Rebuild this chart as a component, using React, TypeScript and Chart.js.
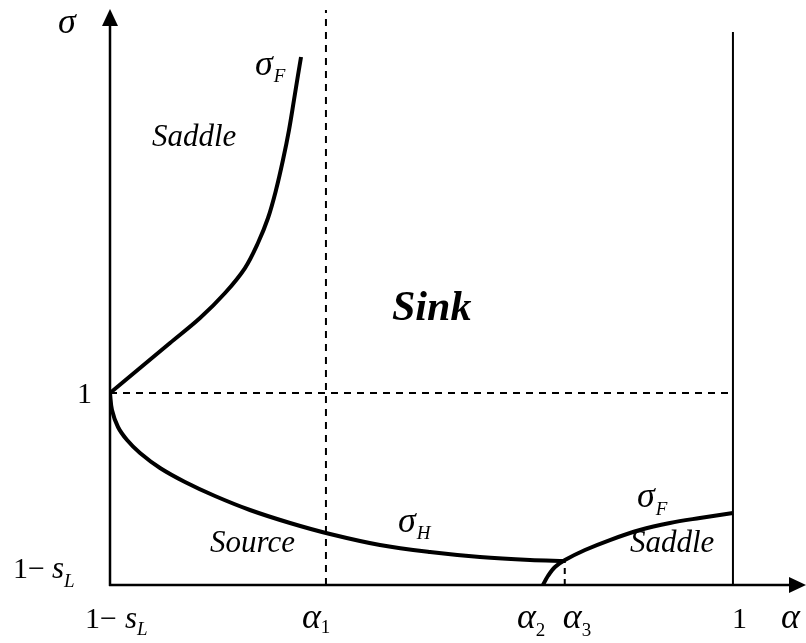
import React, { useEffect, useRef } from "react";
import { Chart, registerables } from "chart.js";

Chart.register(...registerables);

// ---- data (x = alpha, y = sigma) ----
const xMin = 0.4; // 1 - s_L
const xMax = 1.0694;
const yMin = 0.4; // 1 - s_L
const yMax = 2.197;

const alpha1 = 0.608;
const alpha2 = 0.817;
const alpha3 = 0.838;
const alphaOne = 1.0;
const sigmaOne = 1.0;

const upperFX = [0.4, 0.4289, 0.4578, 0.4867, 0.5108, 0.53, 0.5425, 0.5522, 0.5599, 0.5666, 0.5724, 0.5772, 0.5811, 0.584];
const upperFY = [1.0, 1.0781, 1.1563, 1.2344, 1.3125, 1.3906, 1.4688, 1.5469, 1.6344, 1.7281, 1.8219, 1.9156, 1.9938, 2.05];

const hopfX = [0.4, 0.4019, 0.4077, 0.4164, 0.4289, 0.4482, 0.4722, 0.5011, 0.5348, 0.5734, 0.6119, 0.66, 0.7082, 0.7563, 0.8045, 0.8382];
const hopfY = [1.0, 0.9469, 0.8938, 0.8531, 0.8125, 0.7656, 0.7219, 0.6781, 0.6344, 0.5938, 0.5594, 0.525, 0.5031, 0.4875, 0.4781, 0.475];

const lowerFX = [0.817, 0.8218, 0.8286, 0.8382, 0.8575, 0.8815, 0.9104, 0.9393, 0.9682, 1.0];
const lowerFY = [0.4, 0.4281, 0.4563, 0.4781, 0.5094, 0.5406, 0.5719, 0.5938, 0.6094, 0.625];

const rightWallTop = 2.128;

const toPts = (xs: number[], ys: number[]) => xs.map((x, i) => ({ x, y: ys[i] }));

const SERIF = '"Liberation Serif", "Times New Roman", serif';

function drawSub(
  ctx: CanvasRenderingContext2D,
  main: string,
  sub: string,
  x: number,
  y: number,
  size: number,
  subSize: number,
  subDy: number,
  italicMain = true,
  italicSub = true,
  gap = 1
) {
  ctx.font = `${italicMain ? "italic " : ""}${size}px ${SERIF}`;
  ctx.fillText(main, x, y);
  const w = ctx.measureText(main).width;
  ctx.font = `${italicSub ? "italic " : ""}${subSize}px ${SERIF}`;
  ctx.fillText(sub, x + w + gap, y + subDy);
}

const overlay = {
  id: "overlay",
  afterDatasetsDraw(chart: any) {
    const ctx: CanvasRenderingContext2D = chart.ctx;
    const { left, right, top, bottom } = chart.chartArea;
    const xs = chart.scales.x;
    const ys = chart.scales.y;
    ctx.save();
    ctx.fillStyle = "#000";
    ctx.strokeStyle = "#000";
    ctx.setLineDash([]);
    // axes
    ctx.lineWidth = 2.5;
    ctx.beginPath();
    ctx.moveTo(left, bottom + 1);
    ctx.lineTo(left, top + 12);
    ctx.moveTo(left - 1, bottom);
    ctx.lineTo(right - 12, bottom);
    ctx.stroke();
    // arrow heads
    ctx.beginPath();
    ctx.moveTo(left, top - 1);
    ctx.lineTo(left - 8, top + 16);
    ctx.lineTo(left + 8, top + 16);
    ctx.closePath();
    ctx.fill();
    ctx.beginPath();
    ctx.moveTo(right + 1, bottom);
    ctx.lineTo(right - 16, bottom - 8);
    ctx.lineTo(right - 16, bottom + 8);
    ctx.closePath();
    ctx.fill();

    ctx.textBaseline = "alphabetic";
    ctx.textAlign = "left";

    // axis titles
    ctx.font = `italic 36px ${SERIF}`;
    ctx.fillText("σ", left - 52, top + 23);
    ctx.fillText("α", xs.getPixelForValue(xMax) - 24, bottom + 43);

    // y tick labels
    const y1 = ys.getPixelForValue(sigmaOne);
    ctx.font = `30px ${SERIF}`;
    ctx.fillText("1", left - 33, y1 + 10);
    const y0 = ys.getPixelForValue(yMin);
    ctx.font = `30px ${SERIF}`;
    ctx.fillText("1−", left - 97, y0 - 7);
    drawSub(ctx, "s", "L", left - 58, y0 - 7, 31, 19, 9, true, true, 0);

    // x tick labels
    const xb = bottom + 43;
    ctx.font = `30px ${SERIF}`;
    ctx.fillText("1−", xs.getPixelForValue(xMin) - 25, xb);
    drawSub(ctx, "s", "L", xs.getPixelForValue(xMin) + 15, xb, 31, 19, 7, true, true, 0);
    drawSub(ctx, "α", "1", xs.getPixelForValue(alpha1) - 24, xb, 36, 19, 5, true, false, 0);
    drawSub(ctx, "α", "2", xs.getPixelForValue(alpha2) - 26, xb, 36, 19, 8, true, false, 0);
    drawSub(ctx, "α", "3", xs.getPixelForValue(alpha3) - 2, xb, 36, 19, 8, true, false, 0);
    ctx.font = `30px ${SERIF}`;
    ctx.fillText("1", xs.getPixelForValue(alphaOne) - 1, xb);

    // curve labels
    drawSub(ctx, "σ", "F", 255, 75, 36, 19, 7, true, true, 1);
    drawSub(ctx, "σ", "H", 398, 532, 36, 19, 7, true, true, 1);
    drawSub(ctx, "σ", "F", 637, 507, 36, 19, 8, true, true, 1);

    // region labels
    ctx.font = `italic 31px ${SERIF}`;
    ctx.fillText("Saddle", 152, 146);
    ctx.fillText("Source", 210, 552);
    ctx.fillText("Saddle", 630, 552);
    ctx.font = `italic bold 42px ${SERIF}`;
    ctx.fillText("Sink", 392, 320);
    ctx.restore();
  },
};

export default function App() {
  const ref = useRef<HTMLCanvasElement | null>(null);
  useEffect(() => {
    if (!ref.current) return;
    const solid = { showLine: true, pointRadius: 0, borderColor: "#000", backgroundColor: "#000", fill: false };
    const chart = new Chart(ref.current, {
      type: "scatter",
      data: {
        datasets: [
          { ...solid, data: [{ x: xMin, y: sigmaOne }, { x: alphaOne, y: sigmaOne }], borderWidth: 2, borderDash: [7, 6], tension: 0 },
          { ...solid, data: [{ x: alpha1, y: yMin }, { x: alpha1, y: yMax }], borderWidth: 2, borderDash: [7, 6], tension: 0 },
          { ...solid, data: [{ x: alpha3, y: yMin }, { x: alpha3, y: hopfY[hopfY.length - 1] }], borderWidth: 2, borderDash: [6, 5], tension: 0 },
          { ...solid, data: [{ x: alphaOne, y: yMin }, { x: alphaOne, y: rightWallTop }], borderWidth: 2, tension: 0 },
          { ...solid, data: toPts(upperFX, upperFY), borderWidth: 4, tension: 0.35 },
          { ...solid, data: toPts(hopfX, hopfY), borderWidth: 4, tension: 0.35 },
          { ...solid, data: toPts(lowerFX, lowerFY), borderWidth: 4, tension: 0.35 },
        ] as any,
      },
      options: {
        animation: false,
        responsive: false,
        maintainAspectRatio: false,
        layout: { padding: { left: 110, right: 1, top: 10, bottom: 58 } },
        plugins: { legend: { display: false }, tooltip: { enabled: false } },
        scales: {
          x: { type: "linear", min: xMin, max: xMax, display: false },
          y: { type: "linear", min: yMin, max: yMax, display: false },
        },
      },
      plugins: [overlay],
    });
    return () => chart.destroy();
  }, []);
  return (
    <div style={{ position: "absolute", left: 0, top: 0, width: 806, height: 643, background: "#fff" }}>
      <canvas ref={ref} width={806} height={643} style={{ display: "block" }} />
    </div>
  );
}
